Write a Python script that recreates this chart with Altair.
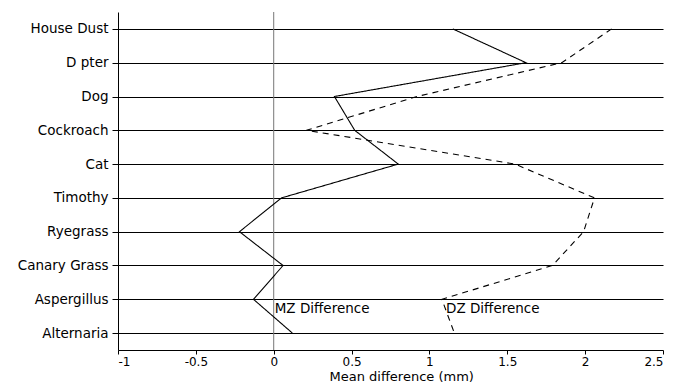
import altair as alt
import pandas as pd

categories = ["House Dust", "D pter", "Dog", "Cockroach", "Cat", "Timothy",
              "Ryegrass", "Canary Grass", "Aspergillus", "Alternaria"]
mz_values = [1.15, 1.62, 0.39, 0.52, 0.80, 0.05, -0.22, 0.06, -0.13, 0.12]
dz_values = [2.17, 1.85, 0.92, 0.21, 1.55, 2.06, 1.99, 1.79, 1.08, 1.16]
series_names = ["MZ Difference", "DZ Difference"]
x_ticks = [-1, -0.5, 0, 0.5, 1, 1.5, 2, 2.5]

# annotation labels: text, x value, category row it sits under
label_texts = ["MZ Difference", "DZ Difference"]
label_x = [0.0, 1.10]
label_rows = ["Aspergillus", "Aspergillus"]

rows = []
for i, c in enumerate(categories):
    rows.append({"allergen": c, "value": mz_values[i], "series": series_names[0], "idx": i})
    rows.append({"allergen": c, "value": dz_values[i], "series": series_names[1], "idx": i})
df = pd.DataFrame(rows)
lab_df = pd.DataFrame({"text": label_texts, "x": label_x, "allergen": label_rows})
zero_df = pd.DataFrame({"x": [0]})

FONT = "DejaVu Sans"

xscale = alt.Scale(domain=[-1, 2.5], nice=False, zero=False)
yscale = alt.Scale(type="point", padding=0.5, domain=categories)

lines = alt.Chart(df).mark_line(color="black", strokeWidth=1.1).encode(
    x=alt.X("value:Q", scale=xscale,
            axis=alt.Axis(values=x_ticks, labelExpr="datum.value + ''", grid=False,
                          title="Mean difference (mm)", domainColor="black",
                          tickColor="black", tickSize=4, labelPadding=2,
                          labelFont=FONT, labelFontSize=12, labelColor="black",
                          titleFont=FONT, titleFontSize=13, titleFontWeight="normal",
                          titleColor="black", titlePadding=3,
                          titleX=211, titleAnchor="start", titleAlign="left")),
    y=alt.Y("allergen:N", scale=yscale, sort=categories,
            axis=alt.Axis(title=None, grid=True, gridColor="black", gridOpacity=1,
                          gridWidth=1.2, domainColor="black", tickColor="black",
                          tickSize=6, labelPadding=4, labelFont=FONT,
                          labelFontSize=13.5, labelColor="black")),
    strokeDash=alt.StrokeDash("series:N", scale=alt.Scale(domain=series_names,
                              range=[[1, 0], [6, 5]]), legend=None),
    order=alt.Order("idx:Q"),
)

zero_rule = alt.Chart(zero_df).mark_rule(color="#777777", strokeWidth=1).encode(
    x=alt.X("x:Q", scale=xscale)
)

labels = alt.Chart(lab_df).mark_text(align="left", baseline="top", dy=3, dx=1,
                                     font=FONT, fontSize=13.5, color="black").encode(
    x=alt.X("x:Q", scale=xscale),
    y=alt.Y("allergen:N", scale=yscale, sort=categories),
    text="text:N",
)

chart = alt.layer(zero_rule, lines, labels).properties(
    width=545, height=338,
    autosize=alt.AutoSizeParams(type="none"),
    padding={"left": 110, "top": 4, "right": 3, "bottom": 38},
    background="white",
).configure_view(stroke=None)

chart.save("out.html", embed_options={"renderer": "svg", "actions": False})
